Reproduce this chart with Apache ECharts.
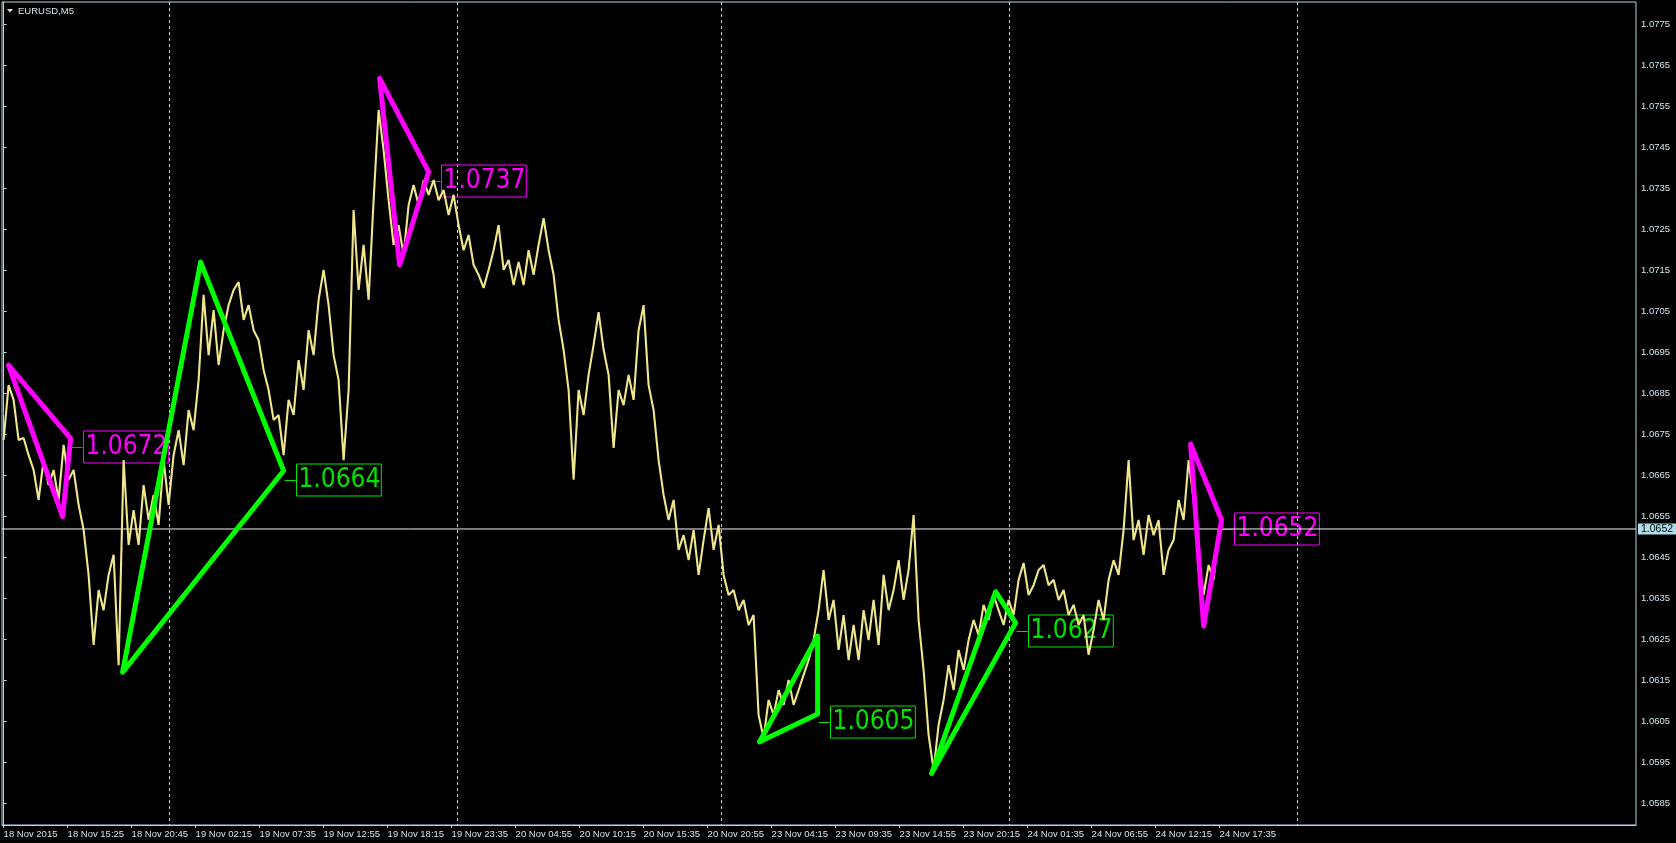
<!DOCTYPE html>
<html><head><meta charset="utf-8">
<script src="https://cdn.jsdelivr.net/npm/echarts@6/dist/echarts.min.js"></script>
<style>html,body{margin:0;padding:0;background:#000;}#c{width:1676px;height:843px;}</style>
</head><body><div id="c"></div>
<script>
// M5 bars, one sample every STEP bars (bar index on x axis)
const STEP = 5;
const price = [
1.06737,1.06871,1.06835,1.06737,1.06742,1.06700,1.06664,1.06591,1.06688,1.06627,
1.06664,1.06591,1.06725,1.06640,1.06664,1.06579,1.06518,1.06408,1.06237,1.06371,
1.06322,1.06408,1.06457,1.06188,1.06688,1.06481,1.06566,1.06481,1.06627,1.06542,
1.06603,1.06530,1.06688,1.06579,1.06700,1.06761,1.06676,1.06810,1.06761,1.06883,
1.07091,1.06944,1.07054,1.06920,1.07005,1.07066,1.07103,1.07122,1.07030,1.07066,
1.07005,1.06981,1.06908,1.06859,1.06786,1.06798,1.06700,1.06835,1.06798,1.06932,
1.06859,1.07005,1.06944,1.07079,1.07152,1.07066,1.06944,1.06883,1.06688,1.06859,
1.07298,1.07103,1.07213,1.07079,1.07322,1.07542,1.07444,1.07322,1.07213,1.07261,
1.07188,1.07310,1.07359,1.07310,1.07371,1.07335,1.07371,1.07322,1.07347,1.07286,
1.07335,1.07261,1.07200,1.07237,1.07164,1.07140,1.07108,1.07152,1.07200,1.07261,
1.07152,1.07176,1.07115,1.07171,1.07115,1.07200,1.07140,1.07213,1.07278,1.07200,
1.07140,1.07030,1.06957,1.06859,1.06640,1.06859,1.06798,1.06896,1.06969,1.07049,
1.06957,1.06896,1.06718,1.06859,1.06822,1.06896,1.06835,1.07005,1.07066,1.06871,
1.06810,1.06688,1.06603,1.06542,1.06591,1.06469,1.06505,1.06444,1.06518,1.06408,
1.06493,1.06571,1.06469,1.06530,1.06408,1.06359,1.06371,1.06322,1.06347,1.06286,
1.06310,1.06066,1.06010,1.06103,1.06066,1.06127,1.06091,1.06152,1.06091,1.06127,
1.06164,1.06200,1.06249,1.06322,1.06420,1.06298,1.06347,1.06225,1.06310,1.06200,
1.06286,1.06200,1.06322,1.06249,1.06347,1.06237,1.06408,1.06322,1.06371,1.06444,
1.06347,1.06420,1.06554,1.06298,1.06176,1.06018,1.05932,1.06042,1.06103,1.06188,
1.06127,1.06225,1.06176,1.06249,1.06298,1.06261,1.06335,1.06298,1.06359,1.06322,
1.06286,1.06347,1.06310,1.06396,1.06437,1.06359,1.06383,1.06420,1.06432,1.06383,
1.06396,1.06347,1.06371,1.06310,1.06335,1.06286,1.06310,1.06213,1.06274,1.06347,
1.06298,1.06396,1.06444,1.06408,1.06518,1.06688,1.06493,1.06542,1.06457,1.06554,
1.06505,1.06542,1.06408,1.06469,1.06493,1.06591,1.06542,1.06688,1.06591,1.06444,
1.06359,1.06432,1.06396,1.06518
];
const timeTickIdx = [0,64,128,192,256,320,384,448,512,576,640,704,768,832,896,960,1024,1088,1152,1216];
const timeLabels = ['18 Nov 2015','18 Nov 15:25','18 Nov 20:45','19 Nov 02:15','19 Nov 07:35','19 Nov 12:55',
  '19 Nov 18:15','19 Nov 23:35','20 Nov 04:55','20 Nov 10:15','20 Nov 15:35','20 Nov 20:55','23 Nov 04:15',
  '23 Nov 09:35','23 Nov 14:55','23 Nov 20:15','24 Nov 01:35','24 Nov 06:55','24 Nov 12:15','24 Nov 17:35'];
const yTicks = [1.0585,1.0595,1.0605,1.0615,1.0625,1.0635,1.0645,1.0655,1.0665,1.0675,
  1.0685,1.0695,1.0705,1.0715,1.0725,1.0735,1.0745,1.0755,1.0765,1.0775];
const dayLines = [165,453,717,1005,1293];
const bid = 1.0652;
const magentaShapes = [
  [[5,1.06919],[67,1.06741],[59,1.06550]],
  [[376,1.07619],[425,1.07391],[396,1.07164]],
  [[1187,1.06727],[1218,1.06542],[1200,1.06283]]
];
const greenShapes = [
  [[119,1.06171],[197,1.07171],[280,1.06662]],
  [[756,1.06001],[814,1.06259],[814,1.06069]],
  [[928,1.05924],[992,1.06367],[1012,1.06291]]
];
const priceLabels = [
  [67,1.0672,'1.0672','m'],
  [280,1.0664,'1.0664','g'],
  [425,1.0737,'1.0737','m'],
  [814,1.0605,'1.0605','g'],
  [1012,1.0627,'1.0627','g'],
  [1218,1.0652,'1.0652','m']
];

const X_MIN = -1.6, X_MAX = 1632.4;
const AX = '#a9d8e6', TX = '#cfe6ef';
const MAG = '#ff00ff', GRN = '#00ff00', GRN_T = '#00e400';
const FONT_S = '"Liberation Sans",Arial,sans-serif';

const chart = echarts.init(document.getElementById('c'), null, {renderer:'canvas'});
const series = [];
// day separators (dashed) drawn through the axis scale
series.push({
  type:'custom', z:0, silent:true,
  data: dayLines.map(d=>[d]),
  renderItem:(params, api)=>{
    const x = Math.round(api.coord([api.value(0), bid])[0]) + 0.5;
    const cs = params.coordSys;
    return {type:'line', shape:{x1:x, y1:cs.y, x2:x, y2:cs.y+cs.height},
      style:{stroke:AX, lineWidth:1, lineDash:[3,3]}};
  }
});
// bid line
series.push({type:'line', z:1, data:[[X_MIN,bid],[X_MAX,bid]], showSymbol:false, symbol:'none', silent:true,
  lineStyle:{color:'#f2f2f2', width:1}});
// bid price box on the price scale
series.push({
  type:'custom', z:5, silent:true, clip:false,
  data:[[X_MAX,bid]],
  renderItem:(params, api)=>{
    const p = api.coord([api.value(0), api.value(1)]);
    return {type:'text', x:p[0]+2, y:Math.round(p[1]), style:{text:bid.toFixed(4), font:'10.5px '+FONT_S,
      fill:'#000', backgroundColor:'#b0dde9', align:'left', verticalAlign:'middle', padding:[1,4,0,3], lineHeight:10}};
  }
});
// price bars (sampled)
series.push({
  type:'line', z:2, data: price.map((v,k)=>[k*STEP, v]), showSymbol:false, symbol:'none',
  lineStyle:{color:'#f0e68c', width:2.1}, silent:true
});
// price labels
series.push({
  type:'custom', z:1, silent:true, clip:false,
  data: priceLabels.map(l=>[l[0], l[1]]),
  renderItem:(params, api)=>{
    const l = priceLabels[params.dataIndex];
    const c = l[3]==='m' ? MAG : GRN_T;
    const p = api.coord([api.value(0), api.value(1)]);
    const y = Math.round(p[1]) + 0.5;
    return {type:'group', children:[
      {type:'line', shape:{x1:p[0]+1, y1:y, x2:p[0]+12, y2:y}, style:{stroke:c, lineWidth:1}},
      {type:'text', x:Math.round(p[0]+12)+0.5, y:Math.round(p[1]), style:{text:l[2], font:'26px "DejaVu Sans Condensed","DejaVu Sans",sans-serif',
        fill:c, align:'left', verticalAlign:'middle', borderColor:c, borderWidth:1, padding:[2,1,2,2], lineHeight:28}}
    ]};
  }
});
magentaShapes.concat(greenShapes).forEach((s,idx)=>{
  const c = idx < magentaShapes.length ? MAG : GRN;
  series.push({type:'line', z:3, data:[...s, s[0]], showSymbol:false, symbol:'none', silent:true,
    lineStyle:{color:c, width:5, join:'round', cap:'round'}});
});

chart.setOption({
  backgroundColor:'#000',
  animation:false,
  grid:{left:2, right:40, top:2, bottom:18, show:true, borderColor:AX, borderWidth:1, backgroundColor:'#000'},
  xAxis:{type:'value', min:X_MIN, max:X_MAX,
    axisLine:{show:true, lineStyle:{color:AX}},
    axisTick:{show:true, length:3, lineStyle:{color:AX}, customValues:timeTickIdx},
    axisLabel:{color:TX, fontSize:9.5, fontFamily:FONT_S, align:'left', margin:4, showMinLabel:true, showMaxLabel:true, hideOverlap:false,
      customValues:timeTickIdx, formatter:v=>timeLabels[timeTickIdx.indexOf(v)]},
    splitLine:{show:false}},
  yAxis:{type:'value', position:'right', min:1.05798, max:1.078054, scale:true,
    axisLine:{show:true, lineStyle:{color:AX}},
    axisTick:{show:true, length:3, lineStyle:{color:AX}, customValues:yTicks},
    axisLabel:{color:TX, fontSize:9.5, fontFamily:FONT_S, margin:5, customValues:yTicks, formatter:v=>v.toFixed(4)},
    splitLine:{show:false}},
  graphic:[
    {type:'polygon', shape:{points:[[7,9],[13,9],[10,12.5]]}, style:{fill:TX}},
    {type:'text', x:18, y:11, style:{text:'EURUSD,M5', font:'9.5px '+FONT_S, fill:TX, verticalAlign:'middle'}}
  ],
  series
});
</script></body></html>
